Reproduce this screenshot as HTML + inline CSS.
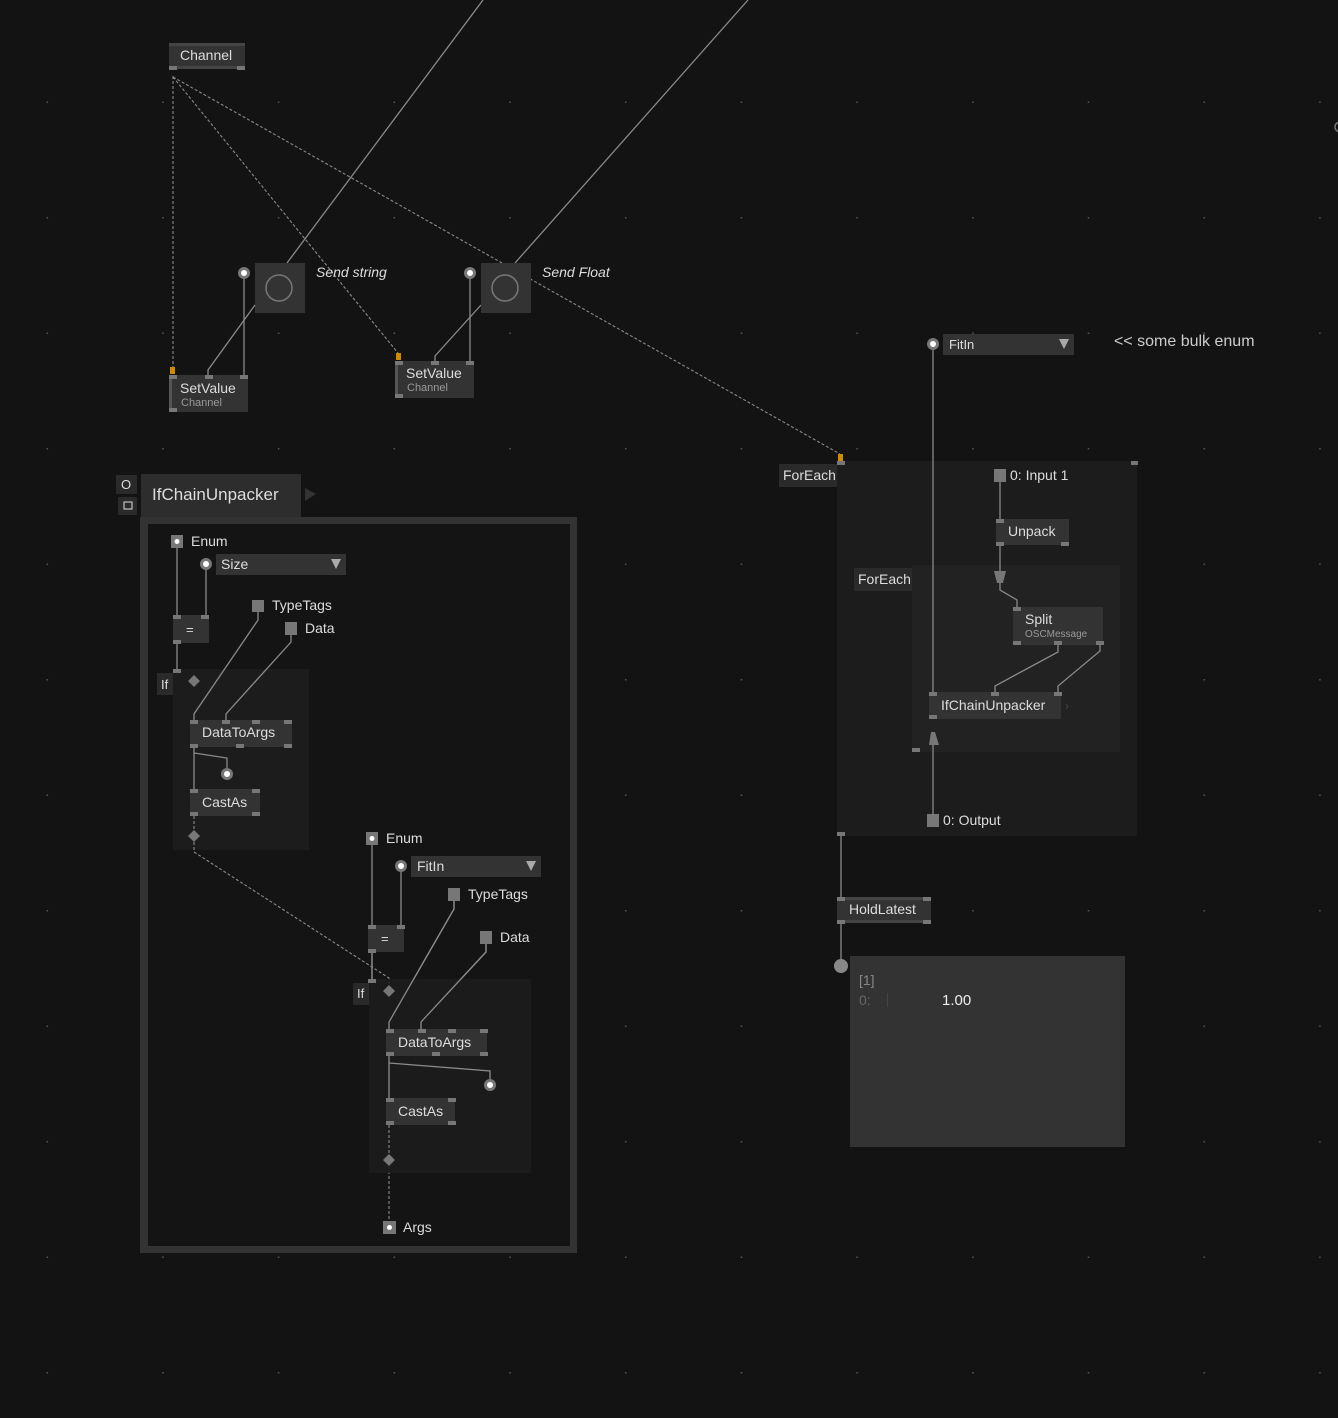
<!DOCTYPE html>
<html><head><meta charset="utf-8"><style>
html,body{margin:0;padding:0;background:#131313;}
svg{display:block;font-family:"Liberation Sans",sans-serif;}
</style></head><body>
<svg width="1338" height="1418" viewBox="0 0 1338 1418" xmlns="http://www.w3.org/2000/svg">
<defs>
<pattern id="dots" x="0" y="0" width="115.7" height="115.5" patternUnits="userSpaceOnUse">
<rect x="46.5" y="101.5" width="1.5" height="1.5" fill="#555"/>
</pattern>
</defs>
<rect width="1338" height="1418" fill="#131313"/>
<rect width="1338" height="1418" fill="url(#dots)"/>

<!-- top solid lines -->
<g stroke="#8a8a8a" stroke-width="1.3" fill="none">
<line x1="483" y1="0" x2="287" y2="263"/>
<line x1="748" y1="0" x2="515" y2="263"/>
</g>
<!-- channel dashed -->
<g stroke="#8a8a8a" stroke-width="1.1" fill="none" stroke-dasharray="3,2">
<line x1="173" y1="76" x2="173" y2="370"/>
<line x1="173" y1="77" x2="398" y2="353"/>
<line x1="173" y1="77" x2="840" y2="454"/>
</g>

<!-- Channel node -->
<rect x="169" y="43" width="76" height="26" fill="#333"/>
<rect x="169" y="43" width="76" height="3" fill="#444"/>
<rect x="169" y="66" width="76" height="3" fill="#444"/>
<rect x="169" y="66" width="8" height="4" fill="#777"/>
<rect x="237" y="66" width="8" height="4" fill="#777"/>
<text x="180" y="60" font-size="14" fill="#ddd">Channel</text>

<!-- Send string button -->
<rect x="255" y="263" width="50" height="50" fill="#333"/>
<circle cx="279" cy="288" r="13" fill="none" stroke="#777" stroke-width="1.5"/>
<text x="316" y="277" font-size="14" font-style="italic" fill="#ddd">Send string</text>
<g stroke="#8a8a8a" stroke-width="1.3" fill="none">
<line x1="244" y1="278" x2="244" y2="376"/>
<polyline points="255,305 208,370 208,376"/>
<line x1="470" y1="278" x2="470" y2="362"/>
<polyline points="481,305 435,356 435,362"/>
</g>
<circle cx="244" cy="273" r="6" fill="#777"/><circle cx="244" cy="273" r="3" fill="#fff"/>
<!-- Send Float -->
<rect x="481" y="263" width="50" height="50" fill="#333"/>
<circle cx="505" cy="288" r="13" fill="none" stroke="#777" stroke-width="1.5"/>
<text x="542" y="277" font-size="14" font-style="italic" fill="#ddd">Send Float</text>
<circle cx="470" cy="273" r="6" fill="#777"/><circle cx="470" cy="273" r="3" fill="#fff"/>

<!-- SetValue 1 -->
<rect x="169" y="375" width="79" height="37" fill="#333"/>
<rect x="169" y="375" width="3" height="37" fill="#555"/>
<rect x="170" y="367" width="5" height="7" fill="#d08a00"/>
<rect x="169" y="375" width="8" height="4" fill="#777"/>
<rect x="205" y="375" width="8" height="4" fill="#777"/>
<rect x="240" y="375" width="8" height="4" fill="#777"/>
<rect x="169" y="408" width="8" height="4" fill="#777"/>
<text x="180" y="393" font-size="14" fill="#ddd">SetValue</text>
<text x="181" y="406" font-size="11" fill="#999">Channel</text>
<!-- SetValue 2 -->
<rect x="395" y="361" width="79" height="37" fill="#333"/>
<rect x="395" y="361" width="3" height="37" fill="#555"/>
<rect x="396" y="353" width="5" height="7" fill="#d08a00"/>
<rect x="395" y="361" width="8" height="4" fill="#777"/>
<rect x="431" y="361" width="8" height="4" fill="#777"/>
<rect x="466" y="361" width="8" height="4" fill="#777"/>
<rect x="395" y="394" width="8" height="4" fill="#777"/>
<text x="406" y="378" font-size="14" fill="#ddd">SetValue</text>
<text x="407" y="391" font-size="11" fill="#999">Channel</text>

<!-- FitIn top right -->
<rect x="943" y="334" width="131" height="21" fill="#333"/>
<text x="949" y="349" font-size="13" fill="#ddd">FitIn</text>
<polygon points="1059,339 1069,339 1064,349" fill="#aaa"/>
<text x="1114" y="346" font-size="16" fill="#ccc">&lt;&lt; some bulk enum</text>

<!-- ForEach outer -->
<rect x="837" y="461" width="300" height="375" fill="#1c1c1c"/>
<rect x="779" y="464" width="58" height="23" fill="#2a2a2a"/>
<text x="783" y="480" font-size="14" fill="#ddd">ForEach</text>
<rect x="838" y="454" width="5" height="7" fill="#d08a00"/>
<rect x="837" y="461" width="8" height="4" fill="#777"/>
<rect x="1131" y="461" width="7" height="4" fill="#777"/>
<rect x="837" y="832" width="8" height="4" fill="#777"/>
<!-- inner ForEach -->
<rect x="912" y="565" width="208" height="187" fill="#222"/>
<rect x="854" y="568" width="58" height="23" fill="#2a2a2a"/>
<text x="858" y="584" font-size="14" fill="#ddd">ForEach</text>
<rect x="912" y="748" width="8" height="4" fill="#777"/>

<g stroke="#8a8a8a" stroke-width="1.3" fill="none">
<line x1="933" y1="350" x2="933" y2="693"/>
<line x1="1000" y1="482" x2="1000" y2="519"/>
<line x1="1000" y1="545" x2="1000" y2="572"/>
<polyline points="1000,583 1000,590 1017,600 1017,607"/>
<polyline points="1058,645 1058,652 995,686 995,692"/>
<polyline points="1100,645 1100,651 1058,686 1058,692"/>
<line x1="933" y1="745" x2="933" y2="814"/>
<line x1="841" y1="836" x2="841" y2="897"/>
<line x1="841" y1="923" x2="841" y2="962"/>
</g>
<circle cx="933" cy="344" r="6" fill="#777"/><circle cx="933" cy="344" r="3" fill="#fff"/>
<rect x="994" y="469" width="12" height="13" fill="#777"/>
<text x="1010" y="480" font-size="14" fill="#ddd">0:  Input 1</text>
<rect x="996" y="519" width="73" height="26" fill="#333"/>
<rect x="996" y="519" width="8" height="4" fill="#777"/>
<rect x="996" y="542" width="8" height="4" fill="#777"/>
<rect x="1061" y="542" width="8" height="4" fill="#777"/>
<text x="1008" y="536" font-size="14" fill="#ddd">Unpack</text>
<polygon points="994,571 1006,571 1003,583 997,583" fill="#777"/>
<rect x="1013" y="607" width="90" height="38" fill="#333"/>
<rect x="1013" y="607" width="8" height="4" fill="#777"/>
<rect x="1013" y="641" width="8" height="4" fill="#777"/>
<rect x="1054" y="641" width="8" height="4" fill="#777"/>
<rect x="1096" y="641" width="8" height="4" fill="#777"/>
<text x="1025" y="624" font-size="14" fill="#ddd">Split</text>
<text x="1025" y="637" font-size="10" fill="#999">OSCMessage</text>
<rect x="929" y="692" width="132" height="27" fill="#333"/>
<rect x="929" y="692" width="8" height="4" fill="#777"/>
<rect x="991" y="692" width="8" height="4" fill="#777"/>
<rect x="1054" y="692" width="8" height="4" fill="#777"/>
<rect x="929" y="715" width="8" height="4" fill="#777"/>
<text x="941" y="710" font-size="14" fill="#ddd">IfChainUnpacker</text>
<text x="1065" y="710" font-size="12" fill="#444">›</text>
<polygon points="929,745 939,745 935,732 931,732" fill="#777"/>
<rect x="927" y="814" width="12" height="13" fill="#777"/>
<text x="943" y="825" font-size="14" fill="#ddd">0:  Output</text>

<!-- HoldLatest -->
<rect x="837" y="897" width="94" height="26" fill="#333"/>
<rect x="837" y="897" width="94" height="3" fill="#444"/>
<rect x="837" y="920" width="94" height="3" fill="#444"/>
<rect x="837" y="897" width="8" height="4" fill="#777"/>
<rect x="923" y="897" width="8" height="4" fill="#777"/>
<rect x="837" y="920" width="8" height="4" fill="#777"/>
<rect x="923" y="920" width="8" height="4" fill="#777"/>
<text x="849" y="914" font-size="14" fill="#ddd">HoldLatest</text>
<rect x="850" y="956" width="275" height="191" fill="#333"/>
<circle cx="841" cy="966" r="7" fill="#888"/>
<text x="859" y="985" font-size="14" fill="#888">[1]</text>
<text x="859" y="1005" font-size="14" fill="#666">0:</text>
<rect x="887" y="993" width="1" height="14" fill="#444"/>
<text x="942" y="1005" font-size="15" fill="#eee">1.00</text>

<!-- IfChainUnpacker patch -->
<rect x="116" y="475" width="21" height="19" fill="#2a2a2a"/>
<text x="121" y="489" font-size="13" fill="#ddd">O</text>
<rect x="118" y="497" width="19" height="18" fill="#2a2a2a"/>
<rect x="124" y="502" width="8" height="7" fill="none" stroke="#ddd" stroke-width="1"/>
<rect x="141" y="474" width="160" height="44" fill="#2d2d2d"/>
<text x="152" y="500" font-size="17" fill="#ddd">IfChainUnpacker</text>
<polygon points="305,488 316,494 305,501" fill="#333"/>
<rect x="140" y="517" width="437" height="736" fill="#333"/>
<rect x="148" y="524" width="422" height="722" fill="#141414"/>

<!-- inner If 1 -->
<rect x="173" y="669" width="136" height="181" fill="#1c1c1c"/>
<rect x="157" y="673" width="16" height="22" fill="#2a2a2a"/>
<text x="161" y="689" font-size="13" fill="#ddd">If</text>
<g stroke="#8a8a8a" stroke-width="1.3" fill="none">
<line x1="177" y1="548" x2="177" y2="616"/>
<line x1="206" y1="570" x2="206" y2="616"/>
<line x1="177" y1="643" x2="177" y2="670"/>
<polyline points="258,612 258,620 194,714 194,720"/>
<polyline points="291,635 291,642 226,714 226,720"/>
<line x1="194" y1="747" x2="194" y2="789"/>
<polyline points="194,753 227,758 227,768"/>
<line x1="372" y1="845" x2="372" y2="926"/>
<line x1="401" y1="872" x2="401" y2="926"/>
<line x1="372" y1="952" x2="372" y2="980"/>
<polyline points="454,901 454,909 389,1022 389,1029"/>
<polyline points="486,944 486,952 421,1022 421,1029"/>
<line x1="389" y1="1056" x2="389" y2="1098"/>
<polyline points="389,1063 490,1071 490,1079"/>
</g>
<g stroke="#8a8a8a" stroke-width="1.1" fill="none" stroke-dasharray="3,2">
<line x1="194" y1="816" x2="194" y2="830"/>
<polyline points="194,842 194,852 389,978 389,985"/>
<line x1="389" y1="1125" x2="389" y2="1154"/>
<line x1="389" y1="1166" x2="389" y2="1221"/>
</g>
<rect x="171" y="535" width="12" height="13" fill="#777"/><circle cx="177" cy="541.5" r="2.5" fill="#fff"/>
<text x="191" y="546" font-size="14" fill="#ddd">Enum</text>
<circle cx="206" cy="564" r="6" fill="#777"/><circle cx="206" cy="564" r="3" fill="#fff"/>
<rect x="216" y="554" width="130" height="21" fill="#333"/>
<text x="221" y="569" font-size="14" fill="#ddd">Size</text>
<polygon points="331,559 341,559 336,569" fill="#aaa"/>
<rect x="252" y="600" width="12" height="12" fill="#777"/>
<text x="272" y="610" font-size="14" fill="#ddd">TypeTags</text>
<rect x="285" y="622" width="12" height="13" fill="#777"/>
<text x="305" y="633" font-size="14" fill="#ddd">Data</text>
<rect x="173" y="615" width="36" height="28" fill="#333"/>
<rect x="173" y="615" width="8" height="4" fill="#777"/>
<rect x="201" y="615" width="8" height="4" fill="#777"/>
<rect x="173" y="640" width="8" height="4" fill="#777"/>
<text x="186" y="634" font-size="13" fill="#ddd">=</text>
<rect x="173" y="669" width="8" height="4" fill="#777"/>
<polygon points="194,675 200,681 194,687 188,681" fill="#777"/>
<rect x="190" y="720" width="102" height="27" fill="#333"/>
<rect x="190" y="720" width="8" height="4" fill="#777"/>
<rect x="222" y="720" width="8" height="4" fill="#777"/>
<rect x="252" y="720" width="8" height="4" fill="#777"/>
<rect x="284" y="720" width="8" height="4" fill="#777"/>
<rect x="190" y="744" width="8" height="4" fill="#777"/>
<rect x="236" y="744" width="8" height="4" fill="#777"/>
<rect x="284" y="744" width="8" height="4" fill="#777"/>
<text x="202" y="737" font-size="14" fill="#ddd">DataToArgs</text>
<circle cx="227" cy="774" r="6" fill="#777"/><circle cx="227" cy="774" r="3" fill="#fff"/>
<rect x="190" y="789" width="70" height="27" fill="#333"/>
<rect x="190" y="789" width="8" height="4" fill="#777"/>
<rect x="252" y="789" width="8" height="4" fill="#777"/>
<rect x="190" y="812" width="8" height="4" fill="#777"/>
<rect x="252" y="812" width="8" height="4" fill="#777"/>
<text x="202" y="807" font-size="14" fill="#ddd">CastAs</text>
<polygon points="194,830 200,836 194,842 188,836" fill="#777"/>

<!-- inner If 2 -->
<rect x="369" y="979" width="162" height="194" fill="#1c1c1c" opacity="0.9"/>
<rect x="353" y="983" width="16" height="22" fill="#2a2a2a"/>
<text x="357" y="998" font-size="13" fill="#ddd">If</text>
<g stroke="#8a8a8a" stroke-width="1.3" fill="none">
<polyline points="454,901 454,909 389,1022 389,1029"/>
<polyline points="486,944 486,952 421,1022 421,1029"/>
<line x1="389" y1="1056" x2="389" y2="1098"/>
<polyline points="389,1063 490,1071 490,1079"/>
<line x1="372" y1="952" x2="372" y2="980"/>
</g>
<g stroke="#8a8a8a" stroke-width="1.1" fill="none" stroke-dasharray="3,2">
<line x1="389" y1="1125" x2="389" y2="1154"/>
</g>
<rect x="366" y="832" width="12" height="13" fill="#777"/><circle cx="372" cy="838.5" r="2.5" fill="#fff"/>
<text x="386" y="843" font-size="14" fill="#ddd">Enum</text>
<circle cx="401" cy="866" r="6" fill="#777"/><circle cx="401" cy="866" r="3" fill="#fff"/>
<rect x="411" y="856" width="130" height="21" fill="#333"/>
<text x="417" y="871" font-size="14" fill="#ddd">FitIn</text>
<polygon points="526,861 536,861 531,871" fill="#aaa"/>
<rect x="448" y="888" width="12" height="13" fill="#777"/>
<text x="468" y="899" font-size="14" fill="#ddd">TypeTags</text>
<rect x="480" y="931" width="12" height="13" fill="#777"/>
<text x="500" y="942" font-size="14" fill="#ddd">Data</text>
<rect x="368" y="925" width="36" height="27" fill="#333"/>
<rect x="368" y="925" width="8" height="4" fill="#777"/>
<rect x="397" y="925" width="8" height="4" fill="#777"/>
<rect x="368" y="949" width="8" height="4" fill="#777"/>
<text x="381" y="943" font-size="13" fill="#ddd">=</text>
<rect x="368" y="979" width="8" height="4" fill="#777"/>
<polygon points="389,985 395,991 389,997 383,991" fill="#777"/>
<rect x="386" y="1029" width="101" height="27" fill="#333"/>
<rect x="386" y="1029" width="8" height="4" fill="#777"/>
<rect x="418" y="1029" width="8" height="4" fill="#777"/>
<rect x="448" y="1029" width="8" height="4" fill="#777"/>
<rect x="480" y="1029" width="8" height="4" fill="#777"/>
<rect x="386" y="1052" width="8" height="4" fill="#777"/>
<rect x="432" y="1052" width="8" height="4" fill="#777"/>
<rect x="480" y="1052" width="8" height="4" fill="#777"/>
<text x="398" y="1047" font-size="14" fill="#ddd">DataToArgs</text>
<circle cx="490" cy="1085" r="6" fill="#777"/><circle cx="490" cy="1085" r="3" fill="#fff"/>
<rect x="386" y="1098" width="69" height="27" fill="#333"/>
<rect x="386" y="1098" width="8" height="4" fill="#777"/>
<rect x="448" y="1098" width="8" height="4" fill="#777"/>
<rect x="386" y="1121" width="8" height="4" fill="#777"/>
<rect x="448" y="1121" width="8" height="4" fill="#777"/>
<text x="398" y="1116" font-size="14" fill="#ddd">CastAs</text>
<polygon points="389,1154 395,1160 389,1166 383,1160" fill="#777"/>
<rect x="383" y="1221" width="13" height="13" fill="#777"/><circle cx="389.5" cy="1227.5" r="2.5" fill="#fff"/>
<text x="403" y="1232" font-size="14" fill="#ddd">Args</text>

<circle cx="1340" cy="127" r="5" fill="none" stroke="#777" stroke-width="1.5"/>
</svg>
</body></html>
